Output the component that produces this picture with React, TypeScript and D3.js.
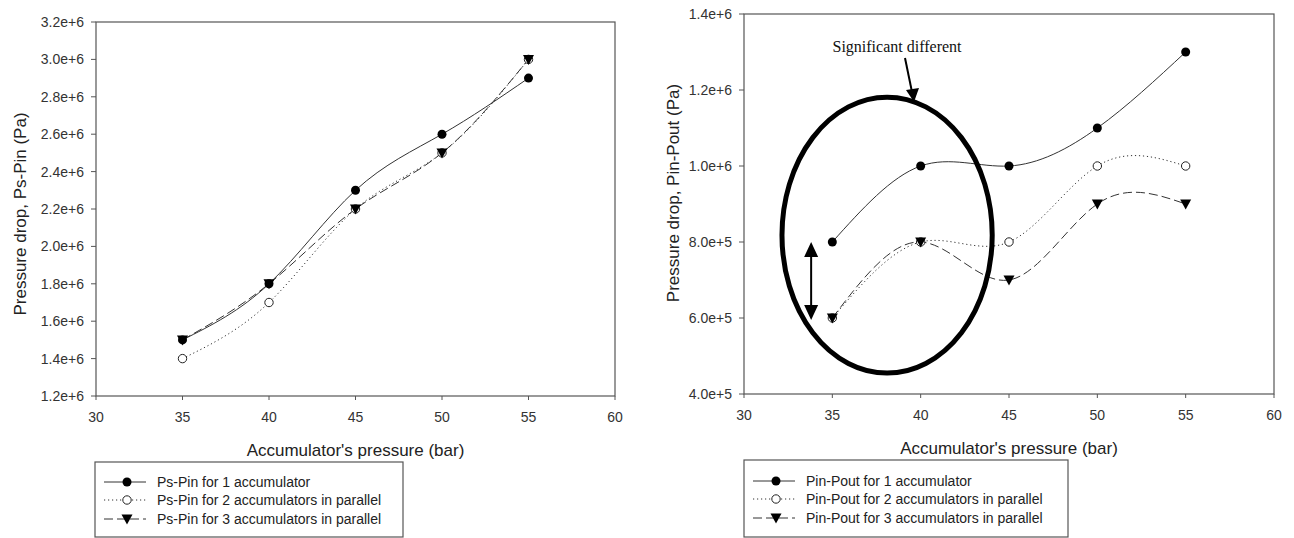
import * as d3 from "d3";

// x values (bar)
const pressures = [35, 40, 45, 50, 55];

// left panel: Ps-Pin (Pa)
const psPin1 = [1.5e6, 1.8e6, 2.3e6, 2.6e6, 2.9e6];
const psPin2 = [1.4e6, 1.7e6, 2.2e6, 2.5e6, 3.0e6];
const psPin3 = [1.5e6, 1.8e6, 2.2e6, 2.5e6, 3.0e6];
const leftTicksY = [1.2e6, 1.4e6, 1.6e6, 1.8e6, 2.0e6, 2.2e6, 2.4e6, 2.6e6, 2.8e6, 3.0e6, 3.2e6];
const leftLegend = [
  "Ps-Pin for 1 accumulator",
  "Ps-Pin for 2 accumulators in parallel",
  "Ps-Pin for 3 accumulators in parallel",
];

// right panel: Pin-Pout (Pa)
const pinPout1 = [8e5, 1.0e6, 1.0e6, 1.1e6, 1.3e6];
const pinPout2 = [6e5, 8e5, 8e5, 1.0e6, 1.0e6];
const pinPout3 = [6e5, 8e5, 7e5, 9e5, 9e5];
const rightTicksY = [4e5, 6e5, 8e5, 1.0e6, 1.2e6, 1.4e6];
const rightLegend = [
  "Pin-Pout for 1 accumulator",
  "Pin-Pout for 2 accumulators in parallel",
  "Pin-Pout for 3 accumulators in parallel",
];

const ticksX = [30, 35, 40, 45, 50, 55, 60];

const styles = [
  { dash: "none", marker: "dot" },
  { dash: "1.2,2.8", marker: "ring" },
  { dash: "9,4", marker: "tri" },
];

const sans = "'Liberation Sans', Arial, sans-serif";
const serif = "'Liberation Serif', 'Times New Roman', serif";
const axisCol = "#555";
const textCol = "#333";

function fmt(v: number) {
  const e = Math.floor(Math.log10(v));
  const m = v / Math.pow(10, e);
  return m.toFixed(1) + "e+" + e;
}

function Marker({ kind, cx, cy }: { kind: string; cx: number; cy: number }) {
  if (kind === "dot") return <circle cx={cx} cy={cy} r={4.5} fill="#000" />;
  if (kind === "ring")
    return <circle cx={cx} cy={cy} r={4.2} fill="#fff" stroke="#222" strokeWidth={1} />;
  return (
    <path
      d={`M${cx - 5.5},${cy - 4.5}L${cx + 5.5},${cy - 4.5}L${cx},${cy + 5.5}Z`}
      fill="#000"
    />
  );
}

function Panel({
  left, top, right, bottom, yDomain, yTicks, series, yTitle, titleX, titleY, legend, legendBox,
}: {
  left: number; top: number; right: number; bottom: number;
  yDomain: [number, number]; yTicks: number[]; series: number[][];
  yTitle: string; titleX: number; titleY: number; legend: string[];
  legendBox: { x: number; y: number; w: number; h: number; rowY: number[] };
}) {
  const x = d3.scaleLinear().domain([30, 60]).range([left, right]);
  const y = d3.scaleLinear().domain(yDomain).range([bottom, top]);
  const line = d3
    .line<number>()
    .x((_, i) => x(pressures[i]))
    .y((d) => y(d))
    .curve(d3.curveNatural);

  return (
    <g>
      {/* frame */}
      <rect x={left} y={top} width={right - left} height={bottom - top} fill="none" stroke={axisCol} strokeWidth={1.2} />
      {yTicks.map((t) => (
        <g key={"y" + t}>
          <line x1={left - 5} x2={left} y1={y(t)} y2={y(t)} stroke={axisCol} />
          <text x={left - 12} y={y(t)} dy="0.35em" textAnchor="end" fontSize={14} fill={textCol} fontFamily={sans}>
            {fmt(t)}
          </text>
        </g>
      ))}
      {ticksX.map((t) => (
        <g key={"x" + t}>
          <line x1={x(t)} x2={x(t)} y1={bottom} y2={bottom + 4} stroke={axisCol} />
          <text x={x(t)} y={bottom + 21} dy="0.35em" textAnchor="middle" fontSize={14} fill={textCol} fontFamily={sans}>
            {t}
          </text>
        </g>
      ))}
      <text x={(left + right) / 2} y={bottom + 54} dy="0.35em" textAnchor="middle" fontSize={17} fill="#222" fontFamily={sans}>
        Accumulator's pressure (bar)
      </text>
      <text
        transform={`translate(${titleX},${titleY}) rotate(-90)`}
        dy="0.35em" textAnchor="middle" fontSize={17} fill="#222" fontFamily={sans}
      >
        {yTitle}
      </text>

      {series.map((s, k) => (
        <path key={"l" + k} d={line(s) || ""} fill="none" stroke="#333" strokeWidth={1} strokeDasharray={styles[k].dash} />
      ))}
      {series.map((s, k) =>
        s.map((v, i) => <Marker key={"m" + k + i} kind={styles[k].marker} cx={x(pressures[i])} cy={y(v)} />)
      )}

      {/* legend */}
      <rect x={legendBox.x} y={legendBox.y} width={legendBox.w} height={legendBox.h} fill="#fff" stroke={axisCol} strokeWidth={1.2} />
      {legend.map((label, k) => {
        const ry = legendBox.rowY[k];
        const lx = legendBox.x + 9;
        return (
          <g key={"lg" + k}>
            <line x1={lx} x2={lx + 42} y1={ry} y2={ry} stroke="#333" strokeWidth={1} strokeDasharray={styles[k].dash} />
            <Marker kind={styles[k].marker} cx={lx + 23} cy={ry} />
            <text x={legendBox.x + 62} y={ry} dy="0.35em" fontSize={14} fill="#222" fontFamily={sans}>
              {label}
            </text>
          </g>
        );
      })}
    </g>
  );
}

export default function App() {
  // right panel scales for the annotation
  const xr = d3.scaleLinear().domain([30, 60]).range([744, 1274]);
  const yr = d3.scaleLinear().domain([4e5, 1.4e6]).range([394, 14]);
  const ellCx = xr(38.1);
  const ellCy = yr(8.18e5);
  const ellRx = xr(38.1 + 5.95) - ellCx;
  const ellRy = ellCy - yr(8.18e5 + 3.63e5);
  const arrX = xr(33.8);
  const arrTop = yr(8.0e5);
  const arrBot = yr(5.95e5);

  return (
    <svg width={1294} height={538} style={{ position: "absolute", left: 0, top: 0, background: "#fff" }}>
      <Panel
        left={96} top={22} right={615} bottom={396}
        yDomain={[1.2e6, 3.2e6]} yTicks={leftTicksY}
        series={[psPin1, psPin2, psPin3]}
        yTitle="Pressure drop, Ps-Pin (Pa)" titleX={20} titleY={214}
        legend={leftLegend}
        legendBox={{ x: 95, y: 462, w: 308, h: 75, rowY: [482, 500, 519] }}
      />
      <Panel
        left={744} top={14} right={1274} bottom={394}
        yDomain={[4e5, 1.4e6]} yTicks={rightTicksY}
        series={[pinPout1, pinPout2, pinPout3]}
        yTitle="Pressure drop, Pin-Pout (Pa)" titleX={673} titleY={193}
        legend={rightLegend}
        legendBox={{ x: 744, y: 460, w: 324, h: 77, rowY: [481, 499, 518] }}
      />

      {/* annotation */}
      <ellipse cx={ellCx} cy={ellCy} rx={ellRx} ry={ellRy} fill="none" stroke="#000" strokeWidth={5} />
      <line x1={905} y1={58} x2={912} y2={92} stroke="#000" strokeWidth={2} />
      <path d="M906,90L919,88L914,102Z" fill="#000" />
      <text x={897} y={52} textAnchor="middle" fontSize={16} fill="#111" fontFamily={serif}>
        Significant different
      </text>
      <line x1={arrX} x2={arrX} y1={arrTop + 12} y2={arrBot - 12} stroke="#000" strokeWidth={2} />
      <path d={`M${arrX - 7},${arrTop + 15}L${arrX + 7},${arrTop + 15}L${arrX},${arrTop}Z`} fill="#000" />
      <path d={`M${arrX - 7},${arrBot - 15}L${arrX + 7},${arrBot - 15}L${arrX},${arrBot}Z`} fill="#000" />
    </svg>
  );
}
